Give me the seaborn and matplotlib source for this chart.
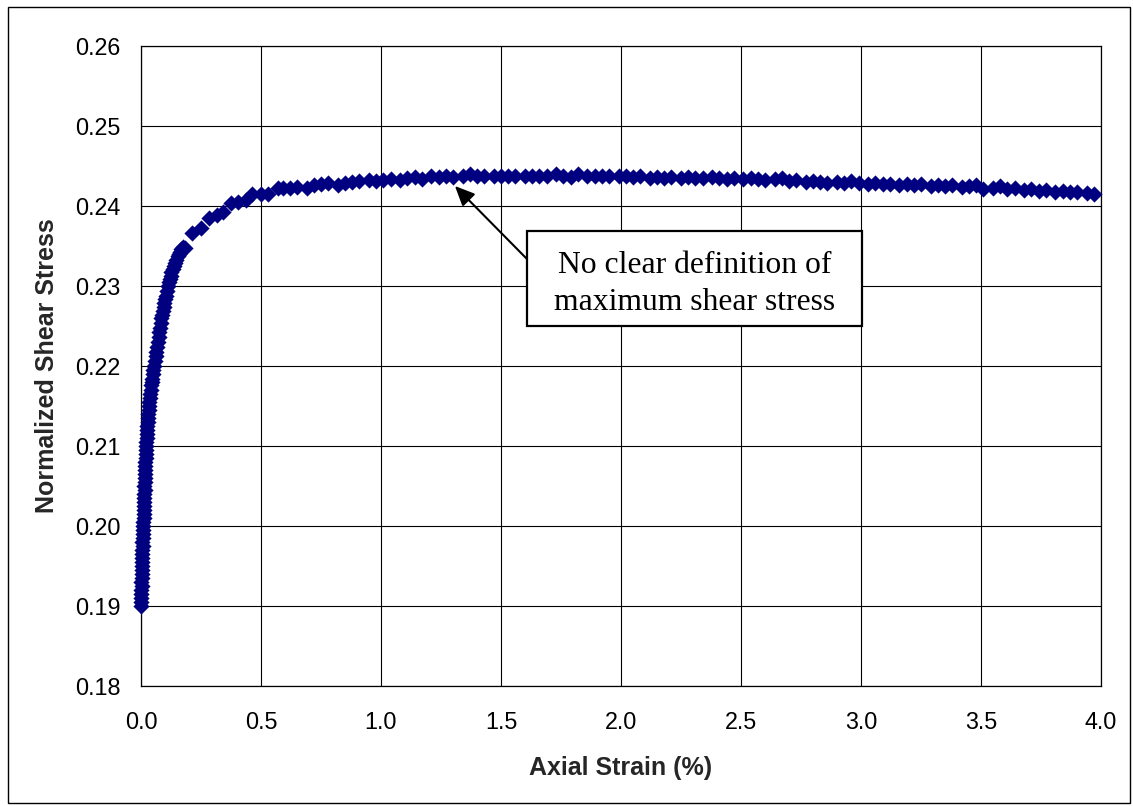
import numpy as np
import pandas as pd
import matplotlib
matplotlib.use("Agg")
import matplotlib.pyplot as plt
from matplotlib.patches import Rectangle
import seaborn as sns

# ---------------- data ----------------
strain_steep = [0.000, 0.001, 0.000, 0.002, 0.001, 0.003, 0.002, 0.003, 0.004, 0.003,
                0.005, 0.004, 0.006, 0.005, 0.006, 0.007, 0.006, 0.008, 0.007, 0.009, 0.010,
                0.010, 0.011, 0.012, 0.011, 0.013, 0.012, 0.014, 0.013, 0.015, 0.014,
                0.016, 0.015, 0.017, 0.016, 0.018, 0.017, 0.019, 0.020, 0.020, 0.021,
                0.022, 0.023, 0.024, 0.025, 0.026, 0.028, 0.029, 0.030, 0.032, 0.034,
                0.035, 0.037, 0.039, 0.041, 0.043, 0.045, 0.047, 0.050, 0.052, 0.055,
                0.058, 0.061, 0.064, 0.067, 0.070, 0.073, 0.076, 0.079, 0.082, 0.085,
                0.088, 0.091, 0.094, 0.097, 0.100, 0.103, 0.107, 0.111, 0.115, 0.119,
                0.123, 0.127, 0.132, 0.137, 0.142, 0.147, 0.153, 0.158, 0.163, 0.168,
                0.174, 0.183]
stress_steep = [0.1900, 0.1905, 0.1910, 0.1915, 0.1920, 0.1925, 0.1930, 0.1935, 0.1940, 0.1945,
                0.1950, 0.1955, 0.1960, 0.1965, 0.1970, 0.1975, 0.1980, 0.1985, 0.1990, 0.1995, 0.2000,
                0.2005, 0.2010, 0.2015, 0.2020, 0.2025, 0.2030, 0.2035, 0.2040, 0.2045, 0.2050,
                0.2055, 0.2060, 0.2065, 0.2070, 0.2075, 0.2080, 0.2085, 0.2090, 0.2095, 0.2100,
                0.2105, 0.2110, 0.2115, 0.2120, 0.2125, 0.2130, 0.2135, 0.2140, 0.2145, 0.2150,
                0.2155, 0.2160, 0.2165, 0.2170, 0.2176, 0.2180, 0.2184, 0.2190, 0.2195, 0.2200,
                0.2206, 0.2212, 0.2218, 0.2224, 0.2230, 0.2236, 0.2242, 0.2248, 0.2254, 0.2260,
                0.2264, 0.2269, 0.2274, 0.2279, 0.2284, 0.2288, 0.2294, 0.2300, 0.2305, 0.2309,
                0.2313, 0.2317, 0.2321, 0.2325, 0.2329, 0.2333, 0.2337, 0.2340, 0.2343, 0.2346,
                0.2349, 0.2348]

strain_knee = [0.214, 0.250, 0.283, 0.315, 0.343, 0.375, 0.405, 0.436, 0.464, 0.500,
               0.530, 0.569, 0.590]
stress_knee = [0.23666, 0.23725, 0.23846, 0.23890, 0.23930, 0.24033, 0.24050, 0.24075, 0.24146, 0.24146,
               0.24150, 0.24221, 0.24220]

strain_flat = [0.62, 0.65, 0.69, 0.72, 0.75, 0.78, 0.82, 0.85, 0.88, 0.91,
               0.95, 0.98, 1.01, 1.04, 1.08, 1.11, 1.14, 1.17, 1.21, 1.24,
               1.27, 1.30, 1.34, 1.37, 1.40, 1.43, 1.47, 1.50, 1.53, 1.56,
               1.60, 1.63, 1.66, 1.69, 1.73, 1.76, 1.79, 1.82, 1.86, 1.89,
               1.92, 1.95, 1.99, 2.02, 2.05, 2.08, 2.12, 2.15, 2.18, 2.21,
               2.25, 2.28, 2.31, 2.34, 2.38, 2.41, 2.44, 2.47, 2.51, 2.54,
               2.57, 2.60, 2.64, 2.67, 2.70, 2.73, 2.77, 2.80, 2.83, 2.86,
               2.90, 2.93, 2.96, 2.99, 3.03, 3.06, 3.09, 3.12, 3.16, 3.19,
               3.22, 3.25, 3.29, 3.32, 3.35, 3.38, 3.42, 3.45, 3.48, 3.51,
               3.55, 3.58, 3.61, 3.64, 3.68, 3.71, 3.74, 3.77, 3.81, 3.84,
               3.87, 3.90, 3.94, 3.97]
stress_flat = [0.2422, 0.2424, 0.2423, 0.2426, 0.2427, 0.2429, 0.2426, 0.2429, 0.2430, 0.2431,
               0.2432, 0.2431, 0.2433, 0.2434, 0.2433, 0.2435, 0.2436, 0.2434, 0.2437, 0.2436,
               0.2437, 0.2436, 0.2437, 0.2440, 0.2437, 0.2438, 0.2437, 0.2438, 0.2437, 0.2438,
               0.2437, 0.2438, 0.2437, 0.2438, 0.2440, 0.2437, 0.2436, 0.2440, 0.2438, 0.2437,
               0.2438, 0.2437, 0.2438, 0.2437, 0.2436, 0.2437, 0.2435, 0.2436, 0.2435, 0.2436,
               0.2435, 0.2436, 0.2435, 0.2435, 0.2436, 0.2435, 0.2434, 0.2435, 0.2434, 0.2435,
               0.2434, 0.2433, 0.2434, 0.2435, 0.2431, 0.2432, 0.2430, 0.2431, 0.2430, 0.2429,
               0.2430, 0.2429, 0.2431, 0.2429, 0.2428, 0.2429, 0.2427, 0.2428, 0.2426, 0.2427,
               0.2426, 0.2427, 0.2425, 0.2426, 0.2425, 0.2426, 0.2424, 0.2425, 0.2426, 0.2421,
               0.2422, 0.2425, 0.2421, 0.2422, 0.2420, 0.2421, 0.2419, 0.2420, 0.2418, 0.2419,
               0.2417, 0.2418, 0.2416, 0.2415]

x_ticks = [0.0, 0.5, 1.0, 1.5, 2.0, 2.5, 3.0, 3.5, 4.0]
y_ticks = [0.18, 0.19, 0.20, 0.21, 0.22, 0.23, 0.24, 0.25, 0.26]
x_label = "Axial Strain (%)"
y_label = "Normalized Shear Stress"
note_text = "No clear definition of\nmaximum shear stress"

df = pd.DataFrame({
    "strain": strain_steep + strain_knee + strain_flat,
    "stress": stress_steep + stress_knee + stress_flat,
})

# ---------------- style ----------------
sns.set_theme(style="white")
plt.rcParams["font.family"] = ["Liberation Sans", "DejaVu Sans"]

W, H = 1133, 806
fig = plt.figure(figsize=(W / 100, H / 100), dpi=100)
fig.patch.set_facecolor("white")
ax = fig.add_axes([141 / W, 1 - 686 / H, (1101 - 141) / W, (686 - 46) / H])

sns.scatterplot(data=df, x="strain", y="stress", ax=ax, marker="D", s=68,
                color="#000080", linewidth=0, zorder=3, legend=False, clip_on=False)

ax.set_xlim(0.0, 4.0)
ax.set_ylim(0.18, 0.26)
ax.set_xticks(x_ticks)
ax.set_yticks(y_ticks)
ax.set_xticklabels([f"{v:.1f}" for v in x_ticks])
ax.set_yticklabels([f"{v:.2f}" for v in y_ticks])
ax.grid(True, color="black", linewidth=0.8)
ax.set_axisbelow(True)
for sp in ax.spines.values():
    sp.set_color("black")
    sp.set_linewidth(0.9)
ax.tick_params(axis="both", which="major", direction="out", length=5,
               width=0.9, color="black", labelsize=16.8, labelcolor="black")
ax.tick_params(axis="x", pad=13)
ax.tick_params(axis="y", pad=9.5)

ax.set_xlabel(x_label, fontsize=18, fontweight="bold", labelpad=16)
ax.set_ylabel(y_label, fontsize=18, fontweight="bold", labelpad=12)

# annotation box
bx0, bx1 = 1.608, 3.004
by0, by1 = 0.2250, 0.23688
ax.add_patch(Rectangle((bx0, by0), bx1 - bx0, by1 - by0, facecolor="white",
                       edgecolor="black", linewidth=1.6, zorder=5))
ax.text((bx0 + bx1) / 2, (by0 + by1) / 2 - 0.0007, note_text, ha="center", va="center",
        fontsize=22.8, family=["Liberation Serif", "DejaVu Serif"], linespacing=1.4,
        zorder=6, color="black")
ax.annotate("", xy=(1.308, 0.2425), xytext=(bx0, 0.23338),
            arrowprops=dict(arrowstyle="-|>,head_length=1.0,head_width=0.45",
                            color="black", lw=1.5, shrinkA=0, shrinkB=0),
            zorder=6)

# figure frame
fig.patches.append(Rectangle((8 / W, 3 / H), (1130 - 8) / W, (803 - 7) / H,
                             transform=fig.transFigure, fill=False,
                             edgecolor="black", linewidth=1.0))

fig.savefig("out.png", dpi=100)
